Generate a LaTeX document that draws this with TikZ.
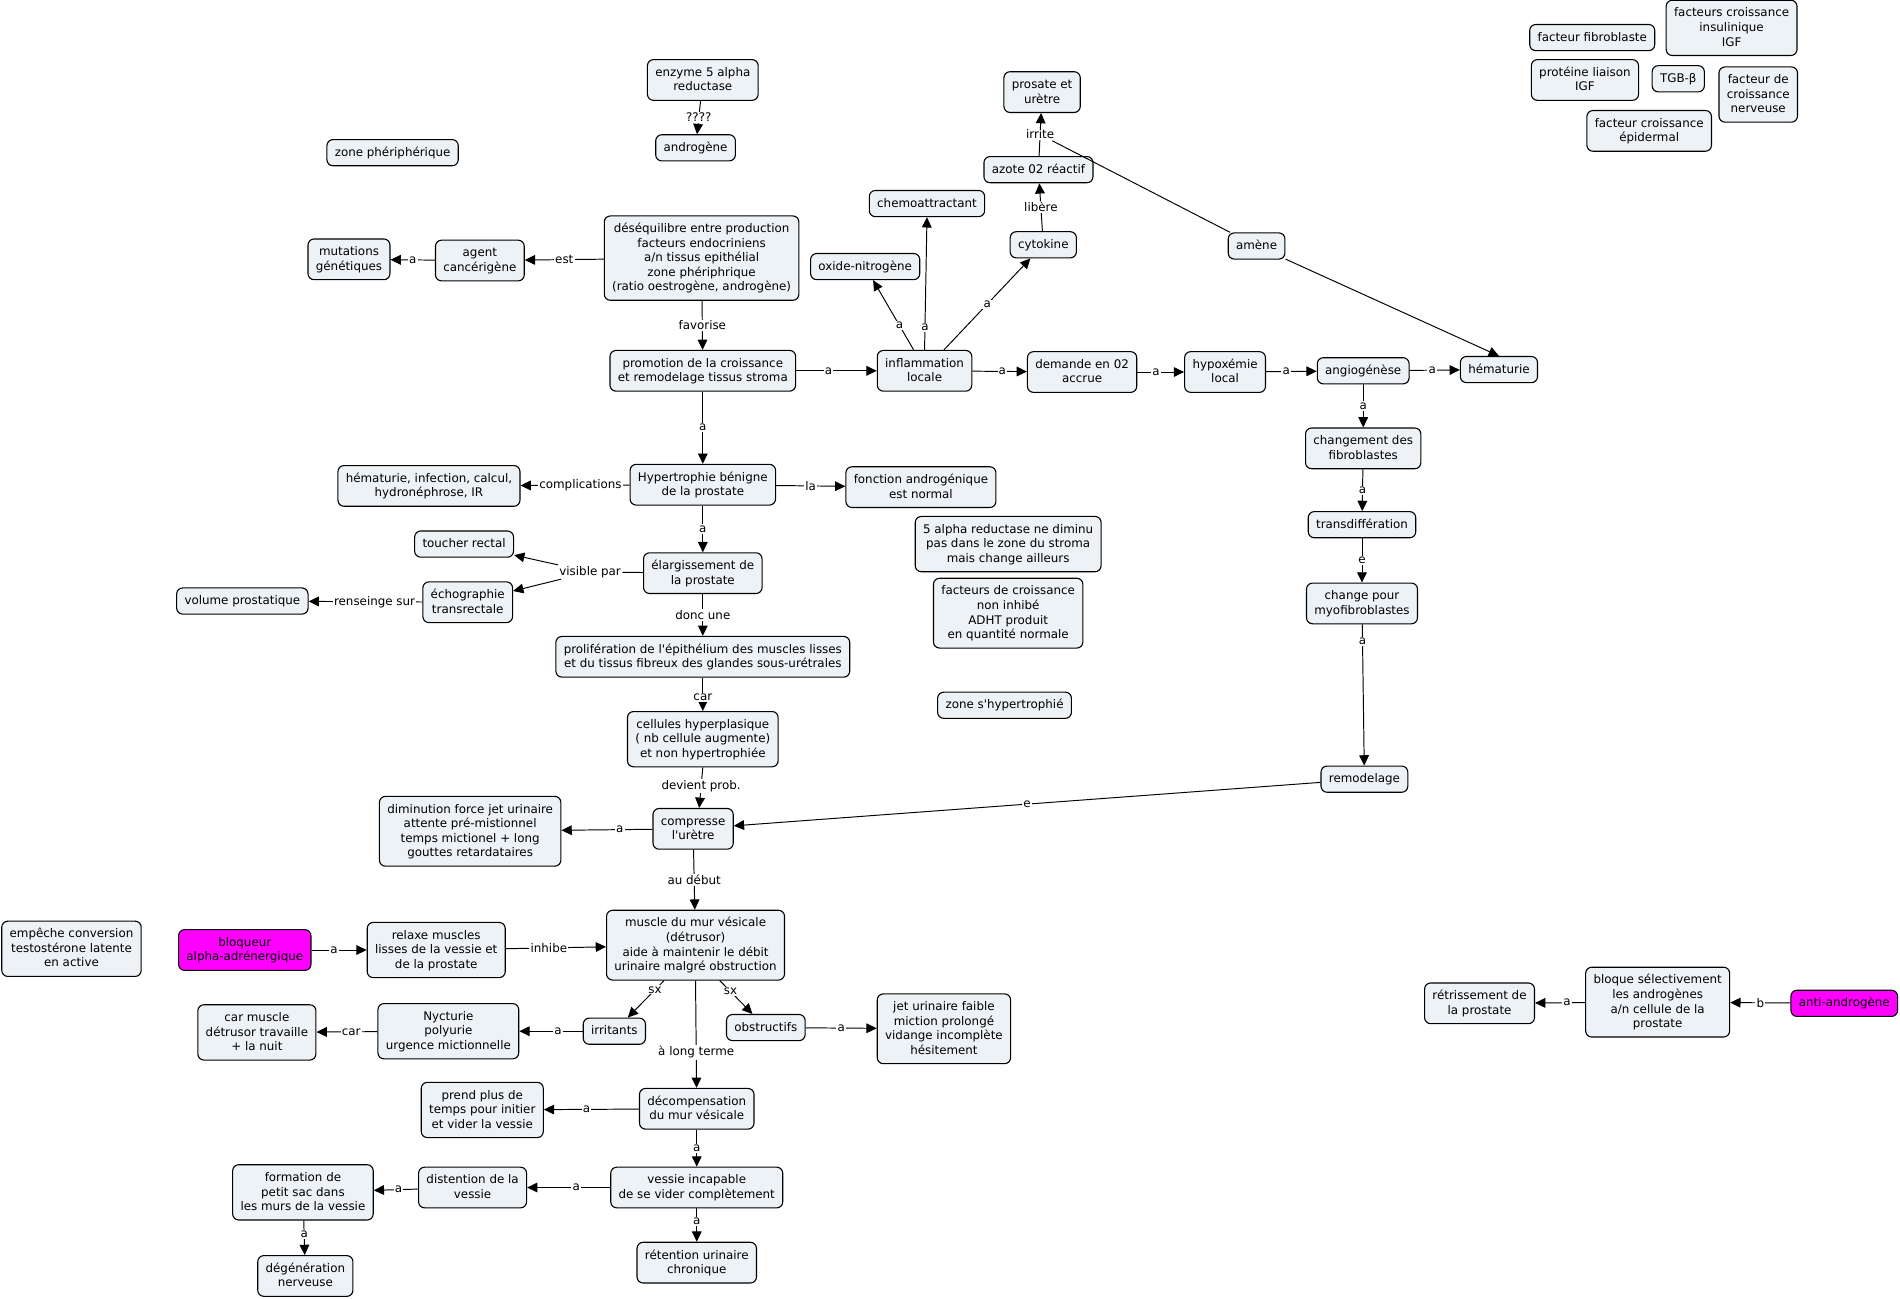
\documentclass[tikz,border=0pt]{standalone}
\usepackage{fontspec}
\newfontfamily\dv{DejaVu Sans}
\usetikzlibrary{arrows.meta}
\definecolor{boxfill}{RGB}{236,242,245}
\definecolor{mag}{RGB}{255,0,255}
\newcommand\topstrut{\rule{0pt}{9.6pt}}
\newcommand\B[1]{\begin{tabular}{@{}c@{}}\topstrut#1\end{tabular}}
\tikzset{
  box/.style={draw=black, line width=0.9pt, rounded corners=5pt, fill=boxfill,
    inner xsep=6.5pt, inner ysep=4.2pt, font=\dv\fontsize{9.8}{12}\selectfont},
  magbox/.style={box, fill=mag},
  lbl/.style={fill=white, inner sep=1pt, font=\dv\fontsize{9.8}{12}\selectfont},
  arr/.style={-{Triangle[length=8.5pt,width=8pt]}, line width=0.8pt},
  ln/.style={line width=0.8pt}
}
\begin{document}
\begin{tikzpicture}[x=1pt,y=-1pt]
\useasboundingbox[fill=white] (0,0) rectangle (1568,1072);
% top
\node[box] (enzyme) at (580,66) {\B{enzyme 5 alpha\\reductase}};
\node[box] (androgene) at (574,122) {\B{androgène}};
\node[box] (zoneperi) at (324,126) {\B{zone phériphérique}};
\node[box] (deseq) at (579,213) {\B{déséquilibre entre production\\facteurs endocriniens\\a/n tissus epithélial\\zone phériphrique\\(ratio oestrogène, androgène)}};
\node[box] (agent) at (396,215) {\B{agent\\cancérigène}};
\node[box] (mutations) at (288,214) {\B{mutations\\génétiques}};
\node[box] (promotion) at (580,306) {\B{promotion de la croissance\\et remodelage tissus stroma}};
\node[box] (inflam) at (763,306) {\B{inflammation\\locale}};
\node[box] (oxide) at (714,220) {\B{oxide-nitrogène}};
\node[box] (chemo) at (765,168) {\B{chemoattractant}};
\node[box] (cytokine) at (861,202) {\B{cytokine}};
\node[box] (azote) at (857,140) {\B{azote 02 réactif}};
\node[box] (prosate) at (860,76) {\B{prosate et\\urètre}};
\node[box] (amene) at (1037,203) {\B{amène}};
\node[box] (demande) at (893,307) {\B{demande en 02\\accrue}};
\node[box] (hypox) at (1011,307) {\B{hypoxémie\\local}};
\node[box] (angio) at (1125,306) {\B{angiogénèse}};
\node[box] (hematurie) at (1237,305) {\B{hématurie}};
\node[box] (changement) at (1125,370) {\B{changement des\\fibroblastes}};
\node[box] (transdiff) at (1124,433) {\B{transdiffération}};
\node[box] (myo) at (1124,498) {\B{change pour\\myofibroblastes}};
\node[box] (remodelage) at (1126,643) {\B{remodelage}};
% middle
\node[box] (hypertrophie) at (580,400) {\B{Hypertrophie bénigne\\de la prostate}};
\node[box] (heminf) at (354,401) {\B{hématurie, infection, calcul,\\hydronéphrose, IR}};
\node[box] (fonction) at (760,402) {\B{fonction androgénique\\est normal}};
\node[box] (rednote) at (832,449) {\B{5 alpha reductase ne diminu\\pas dans le zone du stroma\\mais change ailleurs}};
\node[box] (facnote) at (832,506) {\B{facteurs de croissance\\non inhibé\\ADHT produit\\en quantité normale}};
\node[box] (zonehyper) at (829,582) {\B{zone s'hypertrophié}};
\node[box] (elarg) at (580,473) {\B{élargissement de\\la prostate}};
\node[box] (toucher) at (383,449) {\B{toucher rectal}};
\node[box] (echo) at (386,497) {\B{échographie\\transrectale}};
\node[box] (volume) at (200,496) {\B{volume prostatique}};
\node[box] (prolif) at (580,542) {\B{prolifération de l'épithélium des muscles lisses\\et du tissus fibreux des glandes sous-urétrales}};
\node[box] (cellules) at (580,610) {\B{cellules hyperplasique\\( nb cellule augmente)\\et non hypertrophiée}};
\node[box] (compresse) at (572,684) {\B{compresse\\l'urètre}};
\node[box] (diminution) at (388,686) {\B{diminution force jet urinaire\\attente pré-mistionnel\\temps mictionel + long\\gouttes retardataires}};
% bottom
\node[box] (muscle) at (574,780) {\B{muscle du mur vésicale\\(détrusor)\\aide à maintenir le débit\\urinaire malgré obstruction}};
\node[box] (relaxe) at (360,784) {\B{relaxe muscles\\lisses de la vessie et\\de la prostate}};
\node[magbox] (bloqueur) at (202,784) {\B{bloqueur\\alpha-adrénergique}};
\node[box] (empeche) at (59,783) {\B{empêche conversion\\testostérone latente\\en active}};
\node[box] (irritants) at (507,851) {\B{irritants}};
\node[box] (obstructifs) at (632,848) {\B{obstructifs}};
\node[box] (nycturie) at (370,851) {\B{Nycturie\\polyurie\\urgence mictionnelle}};
\node[box] (carmuscle) at (212,852) {\B{car muscle\\détrusor travaille\\+ la nuit}};
\node[box] (jet) at (779,849) {\B{jet urinaire faible\\miction prolongé\\vidange incomplète\\hésitement}};
\node[box] (decomp) at (575,915) {\B{décompensation\\du mur vésicale}};
\node[box] (prend) at (398,916) {\B{prend plus de\\temps pour initier\\et vider la vessie}};
\node[box] (vessie) at (575,980) {\B{vessie incapable\\de se vider complètement}};
\node[box] (distention) at (390,980) {\B{distention de la\\vessie}};
\node[box] (formation) at (250,984) {\B{formation de\\petit sac dans\\les murs de la vessie}};
\node[box] (degen) at (252,1053) {\B{dégénération\\nerveuse}};
\node[box] (retention) at (575,1042) {\B{rétention urinaire\\chronique}};
% right
\node[box] (bloque) at (1368,827) {\B{bloque sélectivement\\les androgènes\\a/n cellule de la\\prostate}};
\node[box] (retriss) at (1221,828) {\B{rétrissement de\\la prostate}};
\node[magbox] (anti) at (1522,828) {\B{anti-androgène}};
% top right
\node[box] (fibro) at (1314,31) {\B{facteur fibroblaste}};
\node[box] (insul) at (1429,23) {\B{facteurs croissance\\insulinique\\IGF}};
\node[box] (proteine) at (1308,66) {\B{protéine liaison\\IGF}};
\node[box] (tgb) at (1385,65) {\B{TGB-β}};
\node[box] (nerv) at (1451,78) {\B{facteur de\\croissance\\nerveuse}};
\node[box] (epid) at (1361,108) {\B{facteur croissance\\épidermal}};
% edges
\draw[arr] (enzyme) -- node[lbl]{????} (androgene);
\draw[arr] (deseq) -- node[lbl]{est} (agent);
\draw[arr] (agent) -- node[lbl]{a} (mutations);
\draw[arr] (deseq) -- node[lbl]{favorise} (promotion);
\draw[arr] (promotion) -- node[lbl,pos=.4]{a} (inflam);
\draw[arr] ([xshift=-9]inflam.north) -- node[lbl,pos=.35]{a} (oxide);
\draw[arr] (inflam.north) -- node[lbl,pos=.17]{a} (chemo.south);
\draw[arr] ([xshift=16]inflam.north) -- node[lbl]{a} (cytokine);
\draw[arr] (cytokine) -- node[lbl]{libère} (azote);
\draw[arr] (azote) -- node[lbl](irr){irrite} (prosate);
\draw[ln] (irr) -- (amene);
\draw[arr] (amene) -- (hematurie.north);
\draw[arr] (inflam) -- node[lbl,pos=.55]{a} (demande);
\draw[arr] (demande) -- node[lbl,pos=.4]{a} (hypox);
\draw[arr] (hypox) -- node[lbl,pos=.4]{a} (angio);
\draw[arr] (angio) -- node[lbl,pos=.45]{a} (hematurie);
\draw[arr] (angio) -- node[lbl]{a} (changement);
\draw[arr] (changement) -- node[lbl]{a} (transdiff);
\draw[arr] (transdiff) -- node[lbl]{e} (myo);
\draw[arr] (myo) -- node[lbl,pos=.12]{a} (remodelage);
\draw[arr] (remodelage) -- node[lbl]{e} (compresse);
\draw[arr] (promotion) -- node[lbl]{a} (hypertrophie);
\draw[arr] (hypertrophie) -- node[lbl,pos=.45]{complications} (heminf);
\draw[arr] (hypertrophie) -- node[lbl]{la} (fonction);
\draw[arr] (hypertrophie) -- node[lbl]{a} (elarg);
\node[lbl] (vis) at (487,472) {visible par};
\draw[ln] (elarg) -- (vis);
\draw[arr] (vis) -- (toucher);
\draw[arr] (vis) -- (echo);
\draw[arr] (echo) -- node[lbl,pos=.42]{renseinge sur} (volume);
\draw[arr] (elarg) -- node[lbl]{donc une} (prolif);
\draw[arr] (prolif) -- node[lbl,pos=.6]{car} (cellules);
\draw[arr] (cellules.south) -- node[lbl,pos=.47]{devient prob.} ([xshift=5]compresse.north);
\draw[arr] (compresse) -- node[lbl,pos=.36]{a} (diminution);
\draw[arr] (compresse) -- node[lbl]{au début} (muscle);
\draw[arr] (bloqueur) -- node[lbl,pos=.41]{a} (relaxe);
\draw[arr] (relaxe) -- node[lbl,pos=.43]{inhibe} (muscle);
\draw[arr] ([xshift=-26]muscle.south) -- node[lbl,pos=.25]{sx} (irritants);
\draw[arr] ([xshift=20]muscle.south) -- node[lbl,pos=.33]{sx} (obstructifs);
\draw[arr] (muscle.south) -- node[lbl,pos=.67]{à long terme} (decomp);
\draw[arr] (irritants) -- node[lbl,pos=.39]{a} (nycturie);
\draw[arr] (nycturie) -- node[lbl,pos=.43]{car} (carmuscle);
\draw[arr] (obstructifs) -- node[lbl]{a} (jet);
\draw[arr] (decomp) -- node[lbl,pos=.55]{a} (prend);
\draw[arr] (decomp) -- node[lbl]{a} (vessie);
\draw[arr] (vessie) -- node[lbl,pos=.41]{a} (distention);
\draw[arr] (distention) -- node[lbl,pos=.44]{a} (formation);
\draw[arr] (formation) -- node[lbl,pos=.4]{a} (degen);
\draw[arr] (vessie) -- node[lbl,pos=.4]{a} (retention);
\draw[arr] (bloque) -- node[lbl,pos=.36]{a} (retriss);
\draw[arr] (anti) -- node[lbl]{b} (bloque);
\end{tikzpicture}
\end{document}
